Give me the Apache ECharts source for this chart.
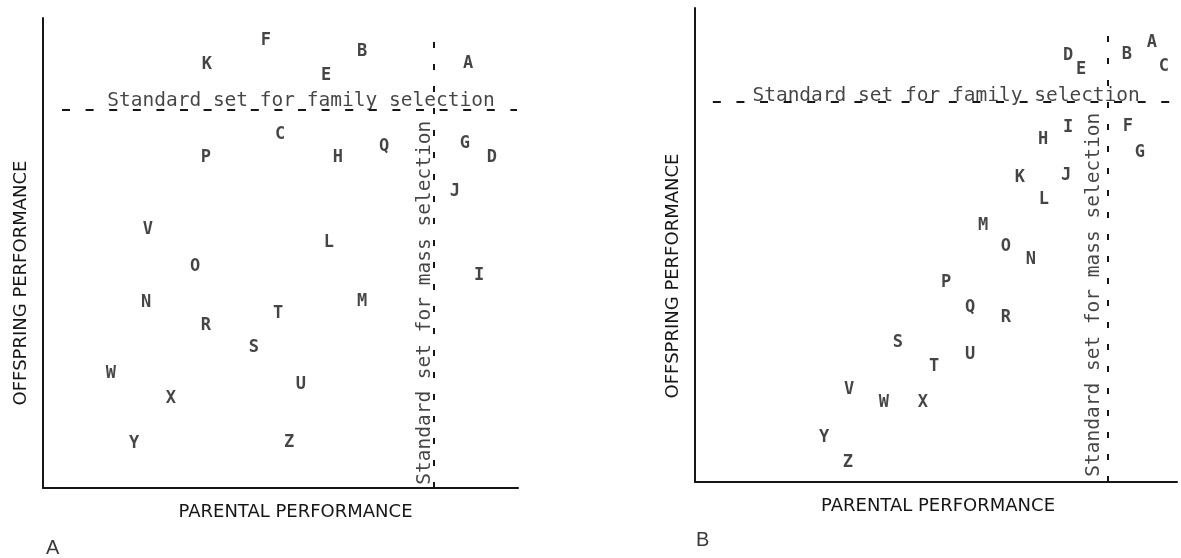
<!DOCTYPE html>
<html>
<head>
<meta charset="utf-8">
<script src="https://cdn.jsdelivr.net/npm/echarts@6/dist/echarts.min.js"></script>
<style>
html,body{margin:0;padding:0;background:#fff;}
#chart{width:1181px;height:558px;}
</style>
</head>
<body>
<div id="chart"></div>
<script>
// ---------- DATA ----------
// Panel A: letters (families) with parental (x) and offspring (y) performance, 0-100 scale
const lettersA = ['A','B','C','D','E','F','G','H','I','J','K','L','M','N','O','P','Q','R','S','T','U','V','W','X','Y','Z'];
const parentA  = [89.5,67.2,49.9,94.5,59.6,46.9,88.8,62.1,91.8,86.7,34.5,60.2,67.2,21.7,32.0,34.3,71.8,34.3,44.4,49.5,54.3,22.1,14.3,26.9,19.2,51.8];
const offspringA = [90.4,92.8,75.1,70.4,87.7,95.3,73.2,70.2,45.3,63.0,90.0,52.3,39.6,39.4,47.2,70.2,72.6,34.5,29.8,37.2,22.1,54.9,24.3,19.1,9.4,9.6];

// Panel B
const lettersB = ['A','B','C','D','E','F','G','H','I','J','K','L','M','N','O','P','Q','R','S','T','U','V','W','X','Y','Z'];
const parentB  = [94.8,89.6,97.3,77.4,80.1,89.8,92.3,72.2,77.4,77.0,67.4,72.4,59.8,69.7,64.5,52.1,57.1,64.5,42.1,49.6,57.1,32.0,39.2,47.3,26.8,31.7];
const offspringB = [92.6,90.1,87.6,89.9,87.1,74.9,69.6,72.2,74.7,64.6,64.3,59.5,54.2,47.0,49.6,42.0,36.9,34.6,29.5,24.3,26.8,19.4,16.7,16.7,9.3,4.2];

// Selection standards (thresholds) and extents of the dashed lines
const massStdA = 82.3, massTopA = 97.0;
const familyStdA = 80.4, familyStartA = 4.0, familyEndA = 99.8;
const massStdB = 85.7, massTopB = 97.0;
const familyStdB = 80.2, familyStartB = 3.7, familyEndB = 100;

// Annotation texts: [x, y, text, rotated]
const familyText = 'Standard set for family selection';
const massText = 'Standard set for mass selection';
const notesA = [[54.3, 82.4, familyText, false],[80.4, 39.4, massText, true]];
const notesB = [[52.1, 81.4, familyText, false],[82.8, 39.5, massText, true]];

const xName = 'PARENTAL PERFORMANCE';
const yName = 'OFFSPRING PERFORMANCE';
const panelLabels = ['A','B'];

// ---------- CHART ----------
const INK = '#161616';
const mono = '"DejaVu Sans Mono", monospace';

function pts(letters, xs, ys){
  return letters.map((l,i)=>({name:l, value:[xs[i], ys[i]]}));
}
function notes(arr){
  return arr.map(n=>({name:n[2], value:[n[0], n[1]], label:{rotate: n[3] ? 90 : 0}}));
}
function axisLine(){ return {show:true, onZero:false, lineStyle:{color:INK, width:2}}; }

function xAx(idx, nameShift){
  return {type:'value', gridIndex:idx, min:0, max:100, name:xName, nameLocation:'middle', nameGap:15,
    nameTextStyle:{fontFamily:'"DejaVu Sans", sans-serif', fontSize:18, color:INK, padding: nameShift},
    axisLine:axisLine(), axisTick:{show:false}, axisLabel:{show:false}, splitLine:{show:false}};
}
function yAx(idx, nameShift){
  return {type:'value', gridIndex:idx, min:0, max:100, name:yName, nameLocation:'middle', nameGap:13,
    nameTextStyle:{fontFamily:'"DejaVu Sans", sans-serif', fontSize:18, color:INK, padding: nameShift},
    axisLine:axisLine(), axisTick:{show:false}, axisLabel:{show:false}, splitLine:{show:false}};
}
function dashLines(massX, massTop, famY, famStart, famEnd){
  return {
    silent:true, symbol:['none','none'], animation:false,
    label:{show:false},
    data:[
      [{coord:[massX, 0], lineStyle:{type:[6,16]}}, {coord:[massX, massTop]}],
      [{coord:[famStart, famY], lineStyle:{type:[8,15.6]}}, {coord:[famEnd, famY]}]
    ],
    lineStyle:{color:INK, width:2}
  };
}
function letterSeries(idx, data, ml){
  return {type:'scatter', xAxisIndex:idx, yAxisIndex:idx, data:data, symbolSize:2,
    itemStyle:{color:'rgba(0,0,0,0)'}, silent:true,
    label:{show:true, position:'inside', formatter:'{b}', fontFamily:mono, fontWeight:'bold', fontSize:17, color:INK},
    labelLayout:{hideOverlap:false},
    markLine: ml};
}
function noteSeries(idx, data){
  return {type:'scatter', xAxisIndex:idx, yAxisIndex:idx, data:data, symbolSize:2,
    itemStyle:{color:'rgba(0,0,0,0)'}, silent:true, z:3,
    label:{show:true, position:'inside', formatter:'{b}', fontFamily:mono, fontSize:19.5, color:INK},
    labelLayout:{hideOverlap:false}};
}

const chart = echarts.init(document.getElementById('chart'), null, {renderer:'canvas'});
chart.setOption({
  backgroundColor:'#ffffff',
  animation:false,
  title:[
    {text:panelLabels[0], left:46, top:538, padding:0, textStyle:{fontFamily:'"Liberation Sans", sans-serif', fontWeight:'normal', fontSize:20, color:'#3a3a3a'}},
    {text:panelLabels[1], left:696, top:530, padding:0, textStyle:{fontFamily:'"Liberation Sans", sans-serif', fontWeight:'normal', fontSize:20, color:'#3a3a3a'}}
  ],
  grid:[
    {left:43, top:18, width:475, height:470},
    {left:695, top:8, width:482, height:474}
  ],
  xAxis:[xAx(0,[0,0,0,30]), xAx(1,[0,0,0,4])],
  yAxis:[yAx(0,[0,60,0,0]), yAx(1,[0,62,0,0])],
  series:[
    letterSeries(0, pts(lettersA, parentA, offspringA), dashLines(massStdA, massTopA, familyStdA, familyStartA, familyEndA)),
    noteSeries(0, notes(notesA)),
    letterSeries(1, pts(lettersB, parentB, offspringB), dashLines(massStdB, massTopB, familyStdB, familyStartB, familyEndB)),
    noteSeries(1, notes(notesB))
  ]
});
</script>
</body>
</html>
